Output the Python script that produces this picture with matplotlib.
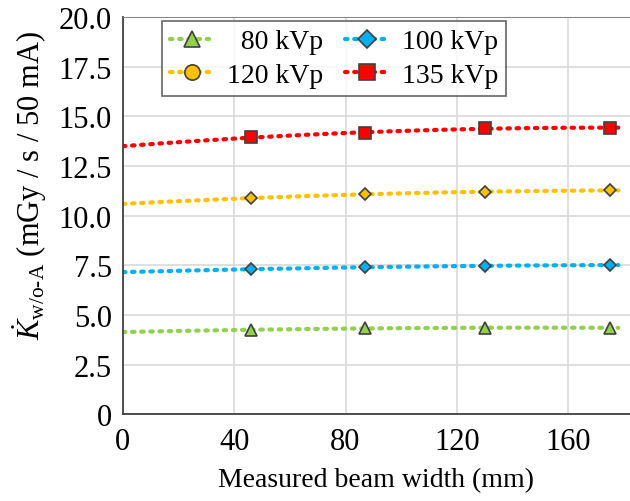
import numpy as np
import matplotlib
matplotlib.use("Agg")
import matplotlib.pyplot as plt
from matplotlib.lines import Line2D

plt.rcParams['font.family'] = ['Liberation Serif', 'DejaVu Serif']
plt.rcParams['mathtext.fontset'] = 'custom'
plt.rcParams['mathtext.rm'] = 'Liberation Serif'
plt.rcParams['mathtext.it'] = 'Liberation Serif:italic'

beam_width = [46, 87, 130, 175]
k_80 = [4.25, 4.32, 4.35, 4.35]
k_100 = [7.30, 7.40, 7.47, 7.51]
k_120 = [10.88, 11.08, 11.20, 11.27]
k_135 = [13.94, 14.16, 14.41, 14.42]

labels = ['\u200780 kVp', '100 kVp', '120 kVp', '135 kVp']
series = [k_80, k_100, k_120, k_135]
colors = ['#92D050', '#00B0F0', '#FFC000', '#FF0000']
plot_markers = ['^', 'D', 'D', 's']
legend_markers = ['^', 'D', 'o', 's']
msizes = [8, 6.5, 6.5, 8.5]
legend_msizes = [12, 9, 11, 11]

fig = plt.figure(figsize=(6.3, 5.02), dpi=100)
ax = fig.add_axes([0.195, 0.173, 0.805, 0.791])

x = np.array(beam_width, dtype=float)
xf = np.linspace(0, 178, 200)
for y, c, m, ms in zip(series, colors, plot_markers, msizes):
    coef2 = np.polyfit(x, np.array(y), 2)
    ax.plot(xf, np.polyval(coef2, xf), linestyle=(0, (0.6, 1.6)), color=c,
            linewidth=3, dash_capstyle='round', zorder=2)
    ax.plot(x, y, linestyle='none', marker=m, markersize=ms,
            markerfacecolor=c, markeredgecolor='#404040', markeredgewidth=1.2, zorder=3)

handles = []
for c, m, ms in zip(colors, legend_markers, legend_msizes):
    handles.append(Line2D([0], [0], color=c, linestyle=(0, (0.6, 1.6)), linewidth=3,
                          dash_capstyle='round', marker=m, markersize=ms,
                          markerfacecolor=c, markeredgecolor='#404040', markeredgewidth=1.2))
order = [0, 2, 1, 3]
leg = ax.legend([handles[i] for i in order], [labels[i] for i in order], ncol=2,
                loc='upper left', bbox_to_anchor=(0.077, 0.99), fontsize=20,
                frameon=True, fancybox=False, edgecolor='#404040',
                handlelength=1.6, handletextpad=0.45, columnspacing=0.8,
                borderpad=0.28, labelspacing=0.3, borderaxespad=0)
leg.get_frame().set_linewidth(1.2)

ax.set_xlim(0, 182.2)
ax.set_ylim(0, 20)
ax.set_xticks([0, 40, 80, 120, 160])
ax.set_yticks(np.arange(0, 20.01, 2.5))
ax.set_yticklabels(['0'] + [f'{v:.1f}' for v in np.arange(2.5, 20.01, 2.5)])
ax.tick_params(axis='both', labelsize=22, length=0)
ax.tick_params(axis='x', pad=9)
ax.tick_params(axis='y', pad=8)
ax.grid(True, color='#D9D9D9', linewidth=1.2)
ax.set_axisbelow(True)
ax.spines['right'].set_visible(False)
ax.spines['top'].set_color('#888888')
ax.spines['left'].set_color('#404040')
ax.spines['bottom'].set_color('#404040')
ax.spines['left'].set_linewidth(1.3)
ax.spines['bottom'].set_linewidth(1.3)

ax.set_xlabel('Measured beam width (mm)', fontsize=20, labelpad=8)
ax.set_ylabel('$\\dot{K}_{\\mathrm{w/o\u2010A}}$ (mGy / s / 50 mA)', fontsize=22)
ax.yaxis.set_label_coords(-0.145, 0.578)

fig.savefig('out.png', dpi=100)
